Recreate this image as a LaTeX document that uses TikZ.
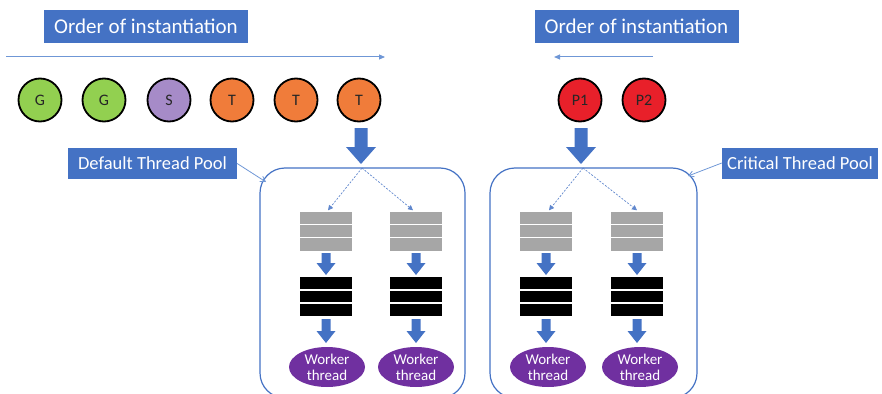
\documentclass[tikz,border=0pt]{standalone}
\usepackage{fontspec}
\setmainfont{Carlito}
\usetikzlibrary{calc,arrows.meta,shapes.geometric}
\definecolor{bblue}{HTML}{4472C4}
\definecolor{lblue}{HTML}{6F97D6}
\definecolor{gG}{HTML}{92D050}
\definecolor{sP}{HTML}{A68BC8}
\definecolor{tO}{HTML}{F07C3A}
\definecolor{pR}{HTML}{E8202A}
\definecolor{wP}{HTML}{7030A0}
\definecolor{qG}{HTML}{A6A6A6}
\newcommand\blockarrow[6]{% x, ytop, ytip, half shaft, half head, head length
  \fill[bblue] (#1-#4,#2) -- (#1+#4,#2) -- (#1+#4,#3-#6) -- (#1+#5,#3-#6) -- (#1,#3)
    -- (#1-#5,#3-#6) -- (#1-#4,#3-#6) -- cycle;}
\begin{document}
\begin{tikzpicture}[x=1pt,y=-1pt,
  title/.style={fill=bblue,text=white,font=\fontsize{21}{24}\selectfont,
    minimum width=204,minimum height=33,inner sep=0},
  lbl/.style={fill=bblue,text=white,font=\fontsize{18.5}{22}\selectfont,
    minimum height=31,inner sep=0},
  obj/.style={circle,draw=black,line width=1.8pt,minimum size=43,inner sep=0,
    font=\fontsize{16}{18}\selectfont,text=black!85},
  pool/.style={draw=bblue,line width=1.2pt,rounded corners=25pt,inner sep=0},
  queue/.style={minimum width=52,minimum height=39,inner sep=0,
    path picture={\foreach \f in {0.333,0.667}{\draw[white,line width=1.3pt]
      ($(path picture bounding box.north west)!\f!(path picture bounding box.south west)$) --
      ($(path picture bounding box.north east)!\f!(path picture bounding box.south east)$);}}},
  worker/.style={ellipse,fill=wP,text=white,minimum width=76,minimum height=40,inner sep=0,
    align=center,font=\fontsize{15}{16}\selectfont},
  order/.style={lblue,line width=1pt,-{Triangle[length=6pt,width=5pt]}},
  fork/.style={bblue!85,line width=0.7pt,dashed,dash pattern=on 2pt off 1.5pt,-{Triangle[length=5pt,width=5pt]}},
  point/.style={lblue,line width=0.8pt,-{Straight Barb[length=5pt,width=6pt]}}
]
\useasboundingbox (0,0) rectangle (882,393);
\clip (0,0) rectangle (882,393);

% titles
\node[title] (ord1) at (146,26.5) {Order of instantiation};
\node[title] (ord2) at (636.5,26.5) {Order of instantiation};
\coordinate (o1a) at (6,57);
\coordinate (o1b) at (385,57);
\coordinate (o2a) at (653,57);
\coordinate (o2b) at (554,57);
\draw[order] (o1a) -- (o1b);
\draw[order] (o2a) -- (o2b);

% objects
\node[obj,fill=gG] (g1) at (40,100) {G};
\node[obj,fill=gG] (g2) at (104,100) {G};
\node[obj,fill=sP] (s1) at (169,100) {S};
\node[obj,fill=tO] (t1) at (232,100) {T};
\node[obj,fill=tO] (t2) at (296,100) {T};
\node[obj,fill=tO] (t3) at (359,100) {T};
\node[obj,fill=pR] (p1) at (580,100) {P1};
\node[obj,fill=pR] (p2) at (644,100) {P2};

% big arrows
\blockarrow{361}{128}{164}{6.5}{15}{17}
\blockarrow{581}{128}{164}{6.5}{15}{17}

% pools
\node[pool,minimum width=205,minimum height=230] (pool1) at (362.5,283) {};
\node[pool,minimum width=207,minimum height=230] (pool2) at (593.5,283) {};

% labels
\node[lbl,minimum width=169] (dl) at (152.5,163.5) {Default Thread Pool};
\node[lbl,minimum width=156] (cl) at (800,163) {Critical Thread Pool};
\coordinate (dp) at (266,182);
\coordinate (cp) at (688,176);
\draw[point] (dl.east) -- (dp);
\draw[point] (cl.west) -- (cp);

% queues left pool
\node[queue,fill=qG] (q1) at (326,231) {};
\node[queue,fill=qG] (q2) at (416,231) {};
\node[queue,fill=black] (b1) at (326,296.5) {};
\node[queue,fill=black] (b2) at (416,296.5) {};
\node[worker] (w1) at (327,367) {Worker\\thread};
\node[worker] (w2) at (416,367) {Worker\\thread};
% queues right pool
\node[queue,fill=qG] (q3) at (546,231) {};
\node[queue,fill=qG] (q4) at (637,231) {};
\node[queue,fill=black] (b3) at (546,296.5) {};
\node[queue,fill=black] (b4) at (637,296.5) {};
\node[worker] (w3) at (548,367) {Worker\\thread};
\node[worker] (w4) at (640,367) {Worker\\thread};

% forks
\coordinate (f1) at (362,168);
\coordinate (f2) at (583,168);
\draw[fork] (f1) -- ($(q1.north)+(2,-1)$);
\draw[fork] (f1) -- ($(q2.north)+(-3,-1)$);
\draw[fork] (f2) -- ($(q3.north)+(3,-1)$);
\draw[fork] (f2) -- ($(q4.north)+(0,-1)$);

% small arrows
\foreach \x in {326,416,546,637}{
  \blockarrow{\x}{253}{275}{4.5}{9.5}{12}
  \blockarrow{\x}{319}{343}{4.5}{9.5}{12}
}
\end{tikzpicture}
\end{document}
